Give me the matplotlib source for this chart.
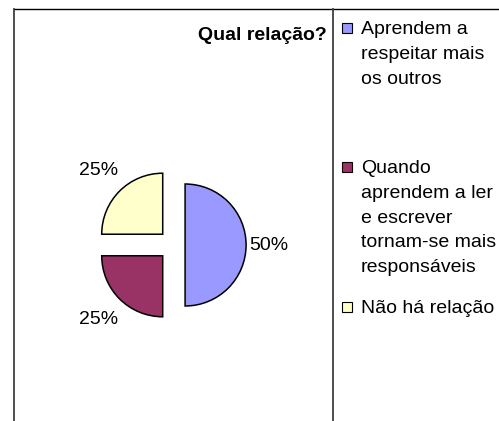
import numpy as np
import matplotlib.pyplot as plt
from matplotlib.patches import Rectangle
from matplotlib.lines import Line2D

plt.rcParams['font.family'] = ['Liberation Sans', 'DejaVu Sans']

# dados do gráfico
categorias = ['Aprendem a\nrespeitar mais\nos outros',
              'Quando\naprendem a ler\ne escrever\ntornam-se mais\nresponsáveis',
              'Não há relação']
valores = [50, 25, 25]
cores = ['#9999FF', '#993366', '#FFFFCC']
titulo = 'Qual relação?'

W, H = 499, 421
fig = plt.figure(figsize=(W / 100, H / 100), dpi=100)

def fx(px):
    return px / W

def fy(py):
    return 1 - py / H

# molduras
fig.add_artist(Line2D([fx(14), 1], [fy(9), fy(9)], color='black', lw=1.0))
fig.add_artist(Line2D([fx(14), fx(14)], [fy(9), 0], color='#404040', lw=1.3))
fig.add_artist(Line2D([fx(333), fx(333)], [fy(9), 0], color='#404040', lw=1.3))

# pizza: centro (173.5, 245), raio 61 px
cx, cy, r = 173.5, 245, 61
half = 100
ax = fig.add_axes([fx(cx - half), 1 - (cy + half) / H, 2 * half / W, 2 * half / H])
lim = half / r
wedges, texts, autotexts = ax.pie(
    valores, colors=cores, startangle=90, counterclock=False,
    explode=[0.19, 0.25, 0.25], radius=1,
    autopct='%1.0f%%', pctdistance=1.42,
    wedgeprops=dict(edgecolor='black', linewidth=1.1),
    textprops=dict(fontsize=14, color='black'), frame=False)
# distância dos rótulos ajustada por fatia
dist = [1.38, 1.48, 1.48]
for w, t, d in zip(wedges, autotexts, dist):
    ang = np.deg2rad((w.theta1 + w.theta2) / 2)
    x0, y0 = w.center
    t.set_position((x0 + d * np.cos(ang), y0 + d * np.sin(ang)))
ax.set_xlim(-lim, lim)
ax.set_ylim(-lim, lim)
ax.set_aspect('auto')
ax.axis('off')

# título
fig.text(fx(327), fy(35), titulo, ha='right', va='center',
         fontsize=14, fontweight='bold')

# legenda
legenda_y = [21, 160, 300]
for lab, cor, ly in zip(categorias, cores, legenda_y):
    fig.add_artist(Rectangle((fx(342), fy(ly + 12)), fx(10), 10 / H,
                             facecolor=cor, edgecolor='black', lw=0.8))
    fig.text(fx(361), fy(ly), lab, ha='left', va='top', fontsize=14,
             linespacing=1.6)

fig.savefig('out.png', dpi=100)
